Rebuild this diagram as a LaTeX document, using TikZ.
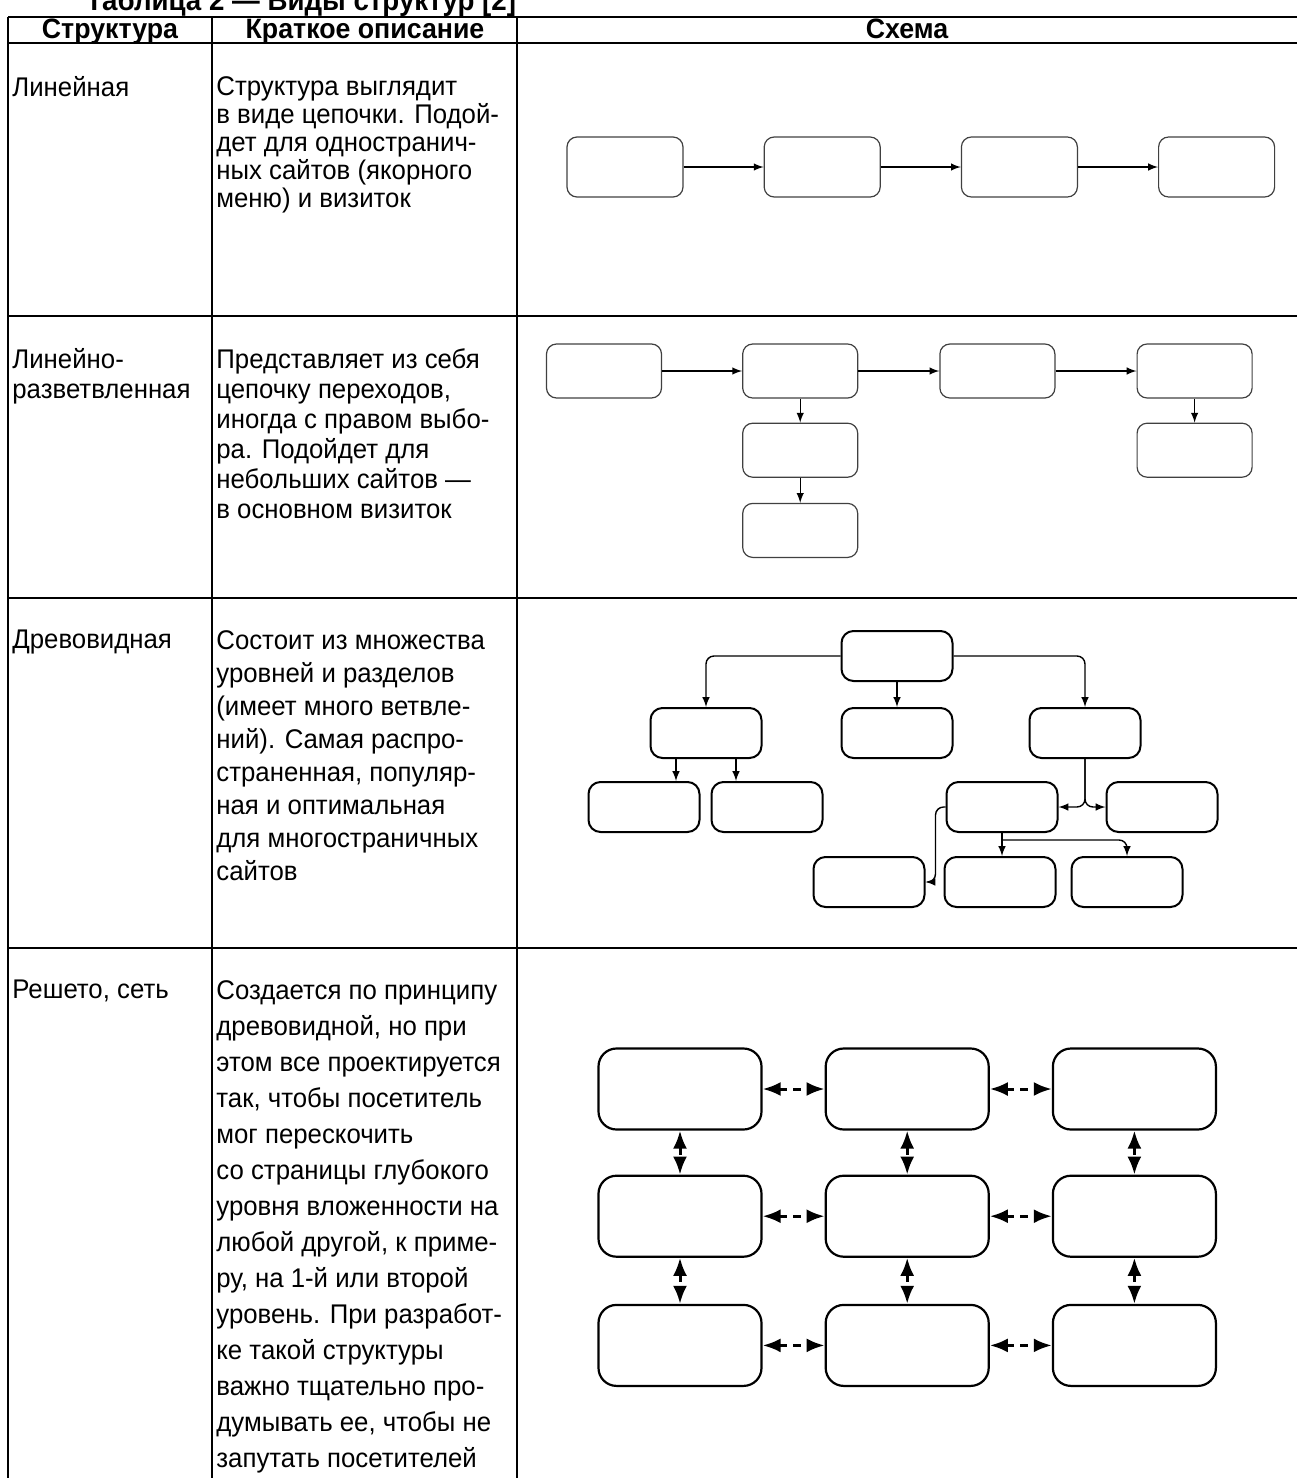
\documentclass[tikz,border=0pt]{standalone}
\usepackage{fontspec}
\setmainfont{Liberation Sans}[FakeStretch=0.955]
\usetikzlibrary{positioning,arrows.meta}

\begin{document}
\begin{tikzpicture}[
    x=0.5pt, y=-0.5pt, >=latex,
    every node/.style={inner sep=0pt},
    txt/.style={anchor=north west, align=left, font=\fontsize{13.5}{#1}\selectfont},
    txt/.default=16.5pt,
    hdr/.style={anchor=base, font=\fontsize{14}{17}\selectfont\bfseries},
    rule/.style={line width=1pt},
    page/.style={draw=black!75, line width=0.6pt, rounded corners=5pt, minimum width=58pt, minimum height=30pt},
    leaf/.style={draw, line width=1pt, rounded corners=6pt, minimum width=55.5pt, minimum height=25pt},
    cell/.style={draw, line width=1.1pt, rounded corners=9pt, minimum width=81.5pt, minimum height=40.5pt},
    go/.style={->, line width=0.7pt},
    hop/.style={{Latex[length=9pt,width=7pt]}-{Latex[length=9pt,width=7pt]}, line width=1.5pt, dash pattern=on 4pt off 3pt}
]
\useasboundingbox (0,0) rectangle (1297,1478);

% table frame
\draw[rule] (8,17) -- (1297,17) (8,43) -- (1297,43) (8,316) -- (1297,316)
    (8,598) -- (1297,598) (8,948) -- (1297,948);
\draw[rule] (8,17) -- (8,1478) (212,17) -- (212,1478) (517,17) -- (517,1478);

\node[hdr, font=\fontsize{14.5}{17}\selectfont\bfseries] (title) at (301,10) {Таблица 2 — Виды структур [2]};
\node[hdr] (hA) at (110,38) {Структура};
\node[hdr] (hB) at (365,38) {Краткое описание};
\node[hdr] (hC) at (907,38) {Схема};

% left columns
\node[txt=14pt] (n1) at (12,76) {Линейная};
\node[txt=14pt] (d1) at (216,76) {Структура выглядит\\в виде цепочки. Подой-\\дет для одностранич-\\ных сайтов (якорного\\меню) и визиток};
\node[txt=15pt] (n2) at (12,348) {Линейно-\\разветвленная};
\node[txt=15pt] (d2) at (216,348) {Представляет из себя\\цепочку переходов,\\иногда с правом выбо-\\ра. Подойдет для\\небольших сайтов —\\в основном визиток};
\node[txt] (n3) at (12,630) {Древовидная};
\node[txt] (d3) at (216,630) {Состоит из множества\\уровней и разделов\\(имеет много ветвле-\\ний). Самая распро-\\страненная, популяр-\\ная и оптимальная\\для многостраничных\\сайтов};
\node[txt=18pt] (n4) at (12,980) {Решето, сеть};
\node[txt=18pt] (d4) at (216,980) {Создается по принципу\\древовидной, но при\\этом все проектируется\\так, чтобы посетитель\\мог перескочить\\со страницы глубокого\\уровня вложенности на\\любой другой, к приме-\\ру, на 1-й или второй\\уровень. При разработ-\\ке такой структуры\\важно тщательно про-\\думывать ее, чтобы не\\запутать посетителей};

% linear
\node[page] (L1) at (625,167) {};
\node[page, right=40pt of L1] (L2) {};
\node[page, right=40pt of L2] (L3) {};
\node[page, right=40pt of L3] (L4) {};
\draw[go] (L1) -- (L2);
\draw[go] (L2) -- (L3);
\draw[go] (L3) -- (L4);

% linear-branched
\node[page, minimum height=27pt, minimum width=57.5pt] (B1) at (604,371) {};
\node[page, minimum height=27pt, minimum width=57.5pt, right=40pt of B1] (B2) {};
\node[page, minimum height=27pt, minimum width=57.5pt, right=40.5pt of B2] (B3) {};
\node[page, minimum height=27pt, minimum width=57.5pt, right=40.5pt of B3] (B4) {};
\node[page, minimum height=27pt, minimum width=57.5pt, below=12pt of B2] (B2a) {};
\node[page, minimum height=27pt, minimum width=57.5pt, below=12.5pt of B2a] (B2b) {};
\node[page, minimum height=27pt, minimum width=57.5pt, below=12pt of B4] (B4a) {};
\draw[go] (B1) -- (B2);
\draw[go] (B2) -- (B3);
\draw[go] (B3) -- (B4);
\draw[go] (B2) -- (B2a);
\draw[go] (B2a) -- (B2b);
\draw[go] (B4) -- (B4a);

% tree
\node[leaf] (T) at (897,656) {};
\node[leaf] (TL) at (706,733) {};
\node[leaf] (TC) at (897,733) {};
\node[leaf] (TR) at (1085,733) {};
\node[leaf] (TLL) at (644,807) {};
\node[leaf] (TLR) at (767,807) {};
\node[leaf] (TRL) at (1002,807) {};
\node[leaf] (TRR) at (1162,807) {};
\node[leaf] (TRLL) at (869,882) {};
\node[leaf] (TRLC) at (1000,882) {};
\node[leaf] (TRLR) at (1127,882) {};
\draw[go, rounded corners=4pt] (T.west) -| (TL.north);
\draw[go, rounded corners=4pt] (T.east) -| (TR.north);
\draw[go] (T) -- (TC);
\draw[go] ([xshift=-15pt]TL.south) -- ([xshift=-15pt]TL.south |- TLL.north);
\draw[go] ([xshift=15pt]TL.south) -- ([xshift=15pt]TL.south |- TLR.north);
\draw[go, rounded corners=4pt] (TR.south) |- (TRL.east);
\draw[go, rounded corners=4pt] (TR.south) |- (TRR.west);
\draw[go] (TRL.south) -- (TRL.south |- TRLC.north);
\draw[go, rounded corners=4pt] ([yshift=-3.5pt]TRL.south) -| (TRLR.north);
\draw[go, rounded corners=4pt] (TRL.west) -- ++(-10,0) |- (TRLL.east);

% net
\node[cell] (G11) at (680,1089) {};
\node[cell, right=31pt of G11] (G12) {};
\node[cell, right=31pt of G12] (G13) {};
\node[cell, below=22pt of G11] (G21) {};
\node[cell, right=31pt of G21] (G22) {};
\node[cell, right=31pt of G22] (G23) {};
\node[cell, below=23pt of G21] (G31) {};
\node[cell, right=31pt of G31] (G32) {};
\node[cell, right=31pt of G32] (G33) {};
\draw[hop] (G11) -- (G12);
\draw[hop] (G12) -- (G13);
\draw[hop] (G21) -- (G22);
\draw[hop] (G22) -- (G23);
\draw[hop] (G31) -- (G32);
\draw[hop] (G32) -- (G33);
\draw[hop] (G11) -- (G21);
\draw[hop] (G12) -- (G22);
\draw[hop] (G13) -- (G23);
\draw[hop] (G21) -- (G31);
\draw[hop] (G22) -- (G32);
\draw[hop] (G23) -- (G33);
\end{tikzpicture}
\end{document}
